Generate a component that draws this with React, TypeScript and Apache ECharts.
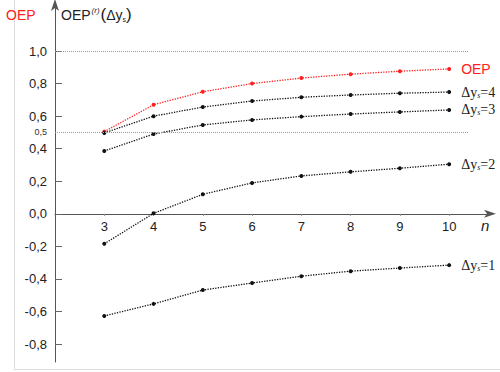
import React, { useEffect, useRef } from "react";
import * as echarts from "echarts";

const nValues = [3, 4, 5, 6, 7, 8, 9, 10];
const oep = [0.505, 0.67, 0.75, 0.8, 0.834, 0.858, 0.876, 0.89];
const dys4 = [0.497, 0.6, 0.656, 0.693, 0.716, 0.73, 0.741, 0.748];
const dys3 = [0.386, 0.49, 0.546, 0.577, 0.597, 0.613, 0.626, 0.638];
const dys2 = [-0.184, 0.003, 0.12, 0.19, 0.233, 0.258, 0.28, 0.305];
const dys1 = [-0.627, -0.553, -0.468, -0.425, -0.383, -0.352, -0.333, -0.315];
const yTickValues = [-0.8, -0.6, -0.4, -0.2, 0, 0.2, 0.4, 0.6, 0.8, 1.0];
const yLabelValues = [-0.8, -0.6, -0.4, -0.2, 0, 0.2, 0.4, 0.5, 0.6, 0.8, 1.0];
const refLines = [1.0, 0.5];

const Y_MIN = -0.91;
const Y_MAX = 1.295;
const GRID_TOP = 3;
const GRID_BOTTOM = 10;
const H = 372;

const pairs = (ys: number[]) => nValues.map((n, i) => [n, ys[i]]);

export default function App() {
  const ref = useRef<HTMLDivElement>(null);
  useEffect(() => {
    const chart = echarts.init(ref.current!, null, { renderer: "svg" });
    const gridH = H - GRID_TOP - GRID_BOTTOM;
    const zeroOffset = (-Y_MIN / (Y_MAX - Y_MIN)) * gridH;
    const serifRich = {
      a: { fontFamily: "Liberation Serif", fontSize: 14, color: "#222" },
      s: { fontFamily: "Liberation Serif", fontSize: 8, fontStyle: "italic", color: "#222", verticalAlign: "bottom", padding: [6, 0, 0, 0] },
    };
    const mkSeries = (name: string, ys: number[], color: string, label: any) => ({
      name,
      type: "line",
      data: pairs(ys),
      symbol: "circle",
      symbolSize: 4,
      itemStyle: { color },
      lineStyle: { color, type: "dotted", width: 1.3 },
      endLabel: { show: true, distance: 12, ...label },
      z: 3,
    });
    const dLabel = (k: string) => ({
      formatter: () => `{a|Δy}{s|s}{a|=${k}}`,
      rich: serifRich,
    });
    chart.setOption({
      animation: false,
      grid: { left: 55, right: 8, top: GRID_TOP, bottom: GRID_BOTTOM, outerBoundsMode: "none", containLabel: false },
      xAxis: {
        type: "value",
        min: 2,
        max: 10.87,
        offset: -zeroOffset,
        axisLine: {
          onZero: false,
          lineStyle: { color: "#555", width: 1 },
          symbol: ["none", "arrow"],
          symbolSize: [6, 12],
          symbolOffset: [0, 4],
        },
        axisTick: { show: true, inside: false, length: 2, customValues: nValues, lineStyle: { color: "#888" } },
        axisLabel: {
          customValues: nValues,
          color: "#222",
          fontFamily: "Liberation Sans",
          fontSize: 13,
          margin: 6,
          formatter: (v: number) => String(v),
        },
        splitLine: { show: false },
      },
      yAxis: {
        type: "value",
        min: Y_MIN,
        max: Y_MAX,
        axisLine: {
          lineStyle: { color: "#555", width: 1 },
          symbol: ["none", "arrow"],
          symbolSize: [6, 12],
          symbolOffset: [0, 4],
        },
        axisTick: { show: true, inside: true, length: 7, customValues: yTickValues, lineStyle: { color: "#666" } },
        axisLabel: {
          customValues: yLabelValues,
          color: "#222",
          fontFamily: "Liberation Sans",
          fontSize: 13,
          margin: 8,
          formatter: (v: number) =>
            Math.abs(v - 0.5) < 1e-6 ? "{s|0,5}" : v.toFixed(1).replace(".", ","),
          rich: { s: { fontSize: 9, color: "#333", fontFamily: "Liberation Sans" } },
        },
        splitLine: { show: false },
      },
      series: [
        {
          ...mkSeries("OEP", oep, "#ff2020", {
            formatter: () => "OEP",
            color: "#ff2020",
            fontFamily: "Liberation Sans",
            fontSize: 14,
          }),
          markLine: {
            silent: true,
            symbol: ["none", "none"],
            label: { show: false },
            lineStyle: { color: "#999", type: "dotted", width: 1 },
            data: refLines.map((v) => [{ coord: [2, v] }, { coord: [10.4, v] }]),
          },
        },
        mkSeries("d4", dys4, "#111", dLabel("4")),
        mkSeries("d3", dys3, "#111", dLabel("3")),
        mkSeries("d2", dys2, "#111", dLabel("2")),
        mkSeries("d1", dys1, "#111", dLabel("1")),
      ],
      graphic: [
        { type: "line", shape: { x1: 14.5, y1: 0, x2: 14.5, y2: 369 }, style: { stroke: "#ddd", lineWidth: 1 } },
        { type: "line", shape: { x1: 14, y1: 369.5, x2: 500, y2: 369.5 }, style: { stroke: "#ddd", lineWidth: 1 } },
        {
          type: "text",
          left: 6,
          top: 8,
          style: { text: "OEP", fill: "#ff2020", fontFamily: "Liberation Sans", fontSize: 14 },
        },
        {
          type: "text",
          left: 61,
          top: 6,
          style: {
            text: "{a|OEP}{r|(r)}{p|(}{a|Δy}{s|s}{p|)}",
            rich: {
              a: { fontFamily: "Liberation Sans", fontSize: 14, fill: "#222" },
              r: { fontFamily: "Liberation Sans", fontSize: 8, fontStyle: "italic", fill: "#222", verticalAlign: "top", padding: [0, 1, 6, 1] },
              p: { fontFamily: "Liberation Sans", fontSize: 17, fill: "#222" },
              s: { fontFamily: "Liberation Sans", fontSize: 7, fill: "#222", verticalAlign: "bottom", padding: [6, 0, 0, 0] },
            },
          },
        },
        {
          type: "text",
          left: 481,
          top: 218,
          style: { text: "n", fill: "#222", fontFamily: "Liberation Sans", fontSize: 15, fontStyle: "italic" },
        },
      ],
    });
    return () => chart.dispose();
  }, []);
  return <div ref={ref} style={{ width: 500, height: 372, position: "absolute", left: 0, top: 0 }} />;
}
